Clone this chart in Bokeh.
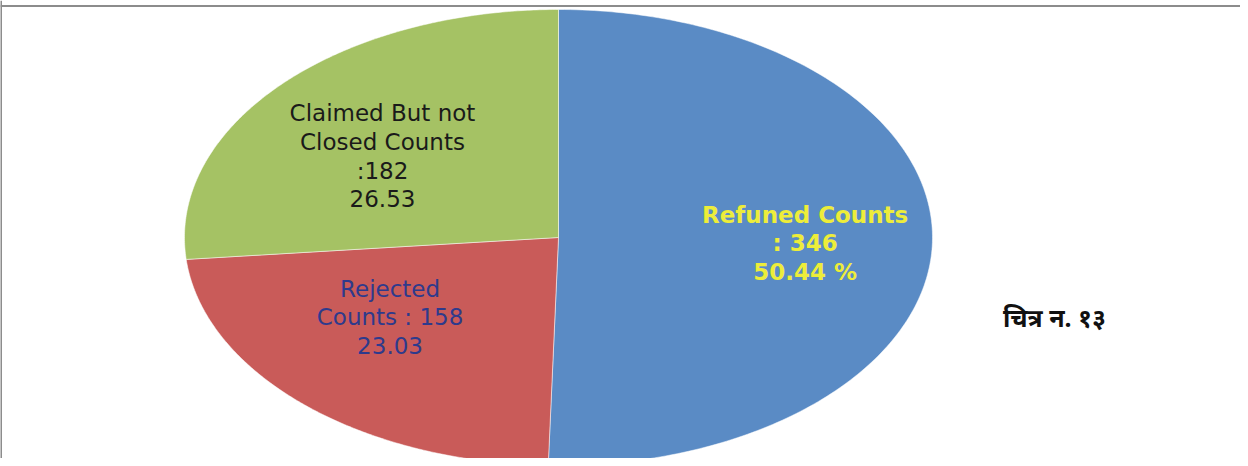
import numpy as np
from bokeh.plotting import figure
from bokeh.models import Range1d, Span, ColumnDataSource
from bokeh.core.properties import value
from bokeh.embed import file_html
from bokeh.resources import INLINE

# ---- data ----
categories = ["Refuned Counts", "Rejected Counts", "Claimed But not Closed Counts"]
counts = [346, 158, 182]
percent_text = ["50.44 %", "23.03", "26.53"]
label_text = [
    "Refuned Counts\n: 346\n50.44 %",
    "Rejected\nCounts : 158\n23.03",
    "Claimed But not\nClosed Counts\n:182\n26.53",
]
colors = ["#5A8BC5", "#C95B59", "#A5C264"]
label_colors = ["#EDED3A", "#2E3A8C", "#1A1A1A"]
caption = "चित्र न. १३"

# ---- layout (screen geometry) ----
W, H = 1240, 458
cx_px, cy_px = 558, 237          # pie centre measured from figure top-left
rx_px, ry_px = 374, 228          # ellipse radii in pixels

x0 = -cx_px / rx_px
x1 = (W - cx_px) / rx_px
y1 = cy_px / ry_px
y0 = -(H - cy_px) / ry_px

p = figure(width=W, height=H, output_backend="svg", toolbar_location=None,
           x_range=Range1d(x0, x1), y_range=Range1d(y0, y1),
           min_border=0)
p.axis.visible = False
p.grid.visible = False
p.outline_line_color = None
p.background_fill_color = "white"
p.border_fill_color = "white"

# ---- slices as polygons in data space (unit circle -> ellipse on screen) ----
total = float(sum(counts))
fracs = np.array(counts) / total
cum = np.concatenate([[0.0], np.cumsum(fracs)])
xs, ys, mids = [], [], []
for i in range(len(counts)):
    a0 = np.pi / 2 - 2 * np.pi * cum[i]
    a1 = np.pi / 2 - 2 * np.pi * cum[i + 1]
    t = np.linspace(a0, a1, 200)
    xs.append([0.0] + list(np.cos(t)))
    ys.append([0.0] + list(np.sin(t)))
    mids.append((a0 + a1) / 2)

src = ColumnDataSource(dict(xs=xs, ys=ys, color=colors, cat=categories))
p.patches("xs", "ys", source=src, fill_color="color", line_color="white",
          line_alpha=0.5, line_width=1)

# ---- labels ----
label_r = [0.66, 0.57, 0.59]
label_dang = [-0.025, -0.16, 0.09]
lx = [label_r[i] * np.cos(mids[i] + label_dang[i]) for i in range(3)]
ly = [label_r[i] * np.sin(mids[i] + label_dang[i]) for i in range(3)]
bold_idx = [0]
for i in range(3):
    p.text(x=[lx[i]], y=[ly[i]], text=[label_text[i]],
           text_color=label_colors[i], text_align="center",
           text_baseline="middle", text_font=value("DejaVu Sans"),
           text_font_size="23px", text_line_height=1.1,
           text_font_style="bold" if i in bold_idx else "normal")

# caption
p.text(x=[(1062 - 8 - cx_px) / rx_px], y=[-(324 - 8 - cy_px) / ry_px],
       text=[caption], text_align="center", text_baseline="middle",
       text_font=value("Noto Sans"), text_font_size="25px",
       text_font_style="bold", text_color="#111111")

# frame lines (top and left)
p.add_layout(Span(location=y1 - 5.5 / ry_px, dimension="width",
                  line_color="#8C8C8C", line_width=2))
p.add_layout(Span(location=x0 + 0.5 / rx_px, dimension="height",
                  line_color="#8C8C8C", line_width=2))

open("out.html", "w").write(file_html(p, INLINE))
